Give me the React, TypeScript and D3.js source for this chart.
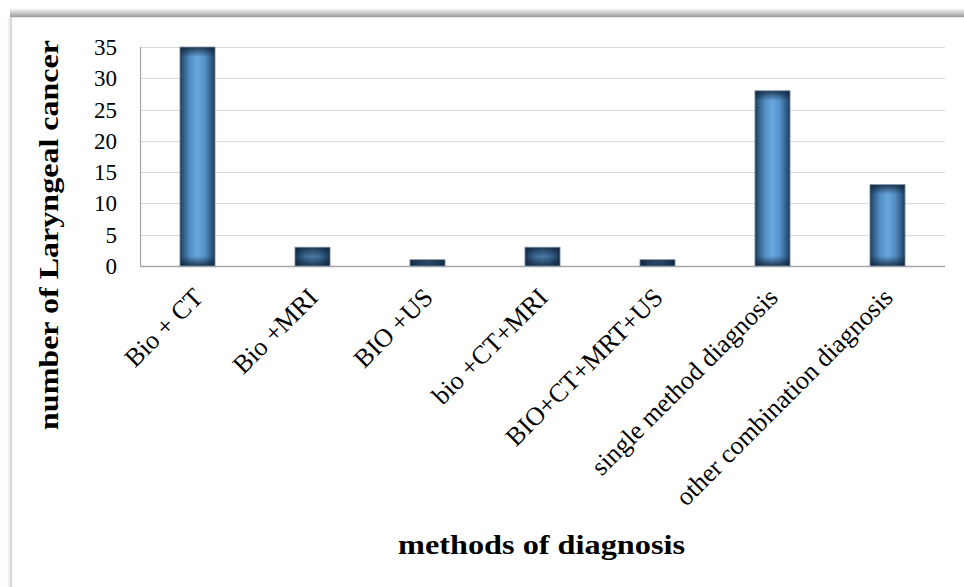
import React from "react";
import * as d3 from "d3";

const categories = [
  "Bio + CT",
  "Bio +MRI",
  "BIO +US",
  "bio +CT+MRI",
  "BIO+CT+MRT+US",
  "single method diagnosis",
  "other combination diagnosis",
];
const values = [35, 3, 1, 3, 1, 28, 13];
const yTicks = [0, 5, 10, 15, 20, 25, 30, 35];
const yTitle = "number of Laryngeal cancer";
const xTitle = "methods of diagnosis";

const W = 964;
const H = 587;
const plot = { left: 140, right: 945, top: 47, bottom: 266 };
const serif = "'Liberation Serif', 'Times New Roman', 'DejaVu Serif', serif";

export default function App() {
  const x = d3
    .scaleBand<string>()
    .domain(categories)
    .range([plot.left, plot.right])
    .paddingInner(0.695)
    .paddingOuter(0.3475);
  const y = d3.scaleLinear().domain([0, 35]).range([plot.bottom, plot.top]);
  const shade = "12,29,48";

  return (
    <svg
      width={W}
      height={H}
      style={{ position: "absolute", left: 0, top: 0, display: "block", background: "#fff" }}
    >
      <defs>
        <linearGradient id="topShadow" x1="0" y1="0" x2="0" y2="1">
          <stop offset="0" stopColor="#ffffff" />
          <stop offset="0.6" stopColor="#c4c4c4" />
          <stop offset="1" stopColor="#9a9a9a" />
        </linearGradient>
        <linearGradient id="leftShadow" x1="0" y1="0" x2="1" y2="0">
          <stop offset="0" stopColor="#ffffff" />
          <stop offset="0.6" stopColor="#e6e6e6" />
          <stop offset="1" stopColor="#cfcfcf" />
        </linearGradient>
        <linearGradient id="barH" x1="0" y1="0" x2="1" y2="0">
          <stop offset="0" stopColor="#1d3853" />
          <stop offset="0.12" stopColor="#33628e" />
          <stop offset="0.3" stopColor="#5591c8" />
          <stop offset="0.5" stopColor="#68a6dd" />
          <stop offset="0.7" stopColor="#5591c8" />
          <stop offset="0.88" stopColor="#33628e" />
          <stop offset="1" stopColor="#1d3853" />
        </linearGradient>
        {categories.map((c, i) => {
          const h = y(0) - y(values[i]);
          const e = Math.min(0.5, 10 / h);
          const m = 0.85 * Math.max(0, 1 - h / 30);
          return (
            <linearGradient key={"vg" + i} id={"barV" + i} x1="0" y1="0" x2="0" y2="1">
              <stop offset="0" stopColor={`rgb(${shade})`} stopOpacity={0.8} />
              <stop offset={e} stopColor={`rgb(${shade})`} stopOpacity={m} />
              <stop offset={1 - e} stopColor={`rgb(${shade})`} stopOpacity={m} />
              <stop offset="1" stopColor={`rgb(${shade})`} stopOpacity={0.8} />
            </linearGradient>
          );
        })}
      </defs>

      {/* frame with shadow */}
      <rect x={10} y={8} width={W - 10} height={9} fill="url(#topShadow)" />
      <rect x={7} y={17} width={5} height={H - 17} fill="url(#leftShadow)" />
      <line x1={12} x2={W} y1={17.5} y2={17.5} stroke="#e4e4e4" strokeWidth={1} />

      {/* gridlines */}
      {yTicks.map((t) => (
        <line
          key={"g" + t}
          x1={plot.left}
          x2={plot.right}
          y1={Math.round(y(t)) + 0.5}
          y2={Math.round(y(t)) + 0.5}
          stroke={t === 0 ? "#a6a6a6" : "#d9d9d9"}
          strokeWidth={t === 0 ? 1.5 : 1}
        />
      ))}
      <line
        x1={plot.left + 0.5}
        x2={plot.left + 0.5}
        y1={plot.top}
        y2={plot.bottom}
        stroke="#a6a6a6"
        strokeWidth={1.2}
      />

      {/* bars */}
      {categories.map((c, i) => {
        const x0 = x(c) as number;
        const y0 = y(values[i]);
        const h = y(0) - y0;
        return (
          <g key={c}>
            <rect x={x0} y={y0} width={x.bandwidth()} height={h} fill="url(#barH)" />
            <rect
              x={x0}
              y={y0}
              width={x.bandwidth()}
              height={h}
              fill={`url(#barV${i})`}
              stroke="#8196ab"
              strokeWidth={0.8}
            />
          </g>
        );
      })}

      {/* y tick labels */}
      {yTicks.map((t) => (
        <text
          key={"t" + t}
          x={117}
          y={y(t) + 8}
          textAnchor="end"
          fontFamily={serif}
          fontSize={23}
          fill="#000"
        >
          {t}
        </text>
      ))}

      {/* x labels */}
      {categories.map((c) => {
        const cx = (x(c) as number) + x.bandwidth() / 2;
        return (
          <text
            key={"x" + c}
            transform={`translate(${cx + 7},${299}) rotate(-45)`}
            textAnchor="end"
            fontFamily={serif}
            fontSize={26}
            fill="#000"
          >
            {c}
          </text>
        );
      })}

      {/* axis titles */}
      <text
        transform={`translate(58,${235}) rotate(-90)`}
        textAnchor="middle"
        fontFamily={serif}
        fontWeight="bold"
        fontSize={28}
        textLength={390}
        lengthAdjust="spacingAndGlyphs"
        fill="#000"
      >
        {yTitle}
      </text>
      <text
        x={541.5}
        y={554}
        textAnchor="middle"
        fontFamily={serif}
        fontWeight="bold"
        fontSize={28}
        textLength={287}
        lengthAdjust="spacingAndGlyphs"
        fill="#000"
      >
        {xTitle}
      </text>
    </svg>
  );
}
